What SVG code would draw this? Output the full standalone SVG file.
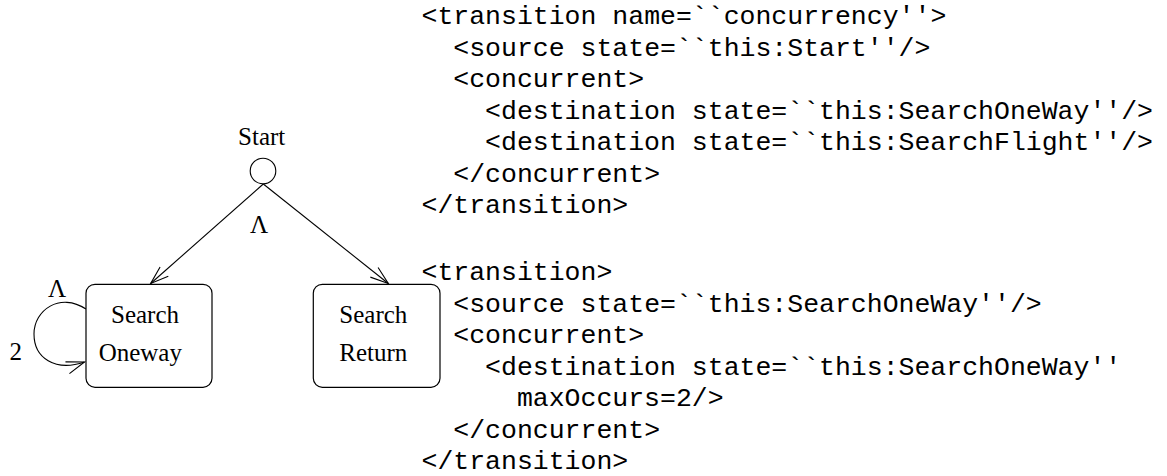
<svg xmlns="http://www.w3.org/2000/svg" width="1167" height="476" viewBox="0 0 1167 476">
<style>
.lbl{font-family:"Liberation Serif","Times New Roman",serif;font-size:25px;fill:#000;text-anchor:middle}
.code{font-family:"Liberation Mono","Courier New",monospace;font-size:26.5px;fill:#000}
.edge{fill:none;stroke:#000;stroke-width:1.1}
.box{fill:#fff;stroke:#000;stroke-width:1.2}
</style>
<defs>
<marker id="arr" viewBox="-20 -10 22 20" markerWidth="22" markerHeight="20" refX="0" refY="0" orient="auto" markerUnits="userSpaceOnUse">
<path d="M-18,-6.2 L0,0 L-18,6.2" fill="none" stroke="#000" stroke-width="1.1"/>
</marker>
</defs>
<rect width="1167" height="476" fill="#fff"/>
<g id="connectors">
<line class="edge" x1="263.3" y1="184" x2="150.7" y2="283.5" marker-end="url(#arr)"/>
<line class="edge" x1="263.3" y1="184" x2="388.3" y2="283.5" marker-end="url(#arr)"/>
<path class="edge" d="M86,309 C60,292 34,310 34,334 C34,358 55,372 84.5,362" marker-end="url(#arr)"/>
<text class="lbl" x="259" y="233">Λ</text>
<text class="lbl" x="57" y="297">Λ</text>
<text class="lbl" x="15.7" y="360">2</text>
</g>
<g id="start">
<text class="lbl" x="261.7" y="145">Start</text>
<circle cx="263" cy="171" r="12.8" fill="#fff" stroke="#000" stroke-width="1.1"/>
</g>
<g id="search-oneway">
<rect class="box" x="86" y="284.3" width="126" height="103" rx="9"/>
<text class="lbl" x="145" y="322.7">Search</text>
<text class="lbl" x="140.3" y="360.7">Oneway</text>
</g>
<g id="search-return">
<rect class="box" x="313.3" y="284.3" width="126.7" height="103" rx="9"/>
<text class="lbl" x="373.3" y="322.7">Search</text>
<text class="lbl" x="373.3" y="360.7">Return</text>
</g>
<g id="code">
<text class="code" x="421.5" y="24">&lt;transition name=``concurrency''&gt;</text>
<text class="code" x="453.3" y="55.5">&lt;source state=``this:Start''/&gt;</text>
<text class="code" x="453.3" y="87">&lt;concurrent&gt;</text>
<text class="code" x="485.1" y="118.5">&lt;destination state=``this:SearchOneWay''/&gt;</text>
<text class="code" x="485.1" y="150">&lt;destination state=``this:SearchFlight''/&gt;</text>
<text class="code" x="453.3" y="181.5">&lt;/concurrent&gt;</text>
<text class="code" x="421.5" y="213">&lt;/transition&gt;</text>
<text class="code" x="421.5" y="280">&lt;transition&gt;</text>
<text class="code" x="453.3" y="311.5">&lt;source state=``this:SearchOneWay''/&gt;</text>
<text class="code" x="453.3" y="343">&lt;concurrent&gt;</text>
<text class="code" x="485.1" y="374.5">&lt;destination state=``this:SearchOneWay''</text>
<text class="code" x="516.9" y="406">maxOccurs=2/&gt;</text>
<text class="code" x="453.3" y="437.5">&lt;/concurrent&gt;</text>
<text class="code" x="421.5" y="469">&lt;/transition&gt;</text>
</g>
</svg>
